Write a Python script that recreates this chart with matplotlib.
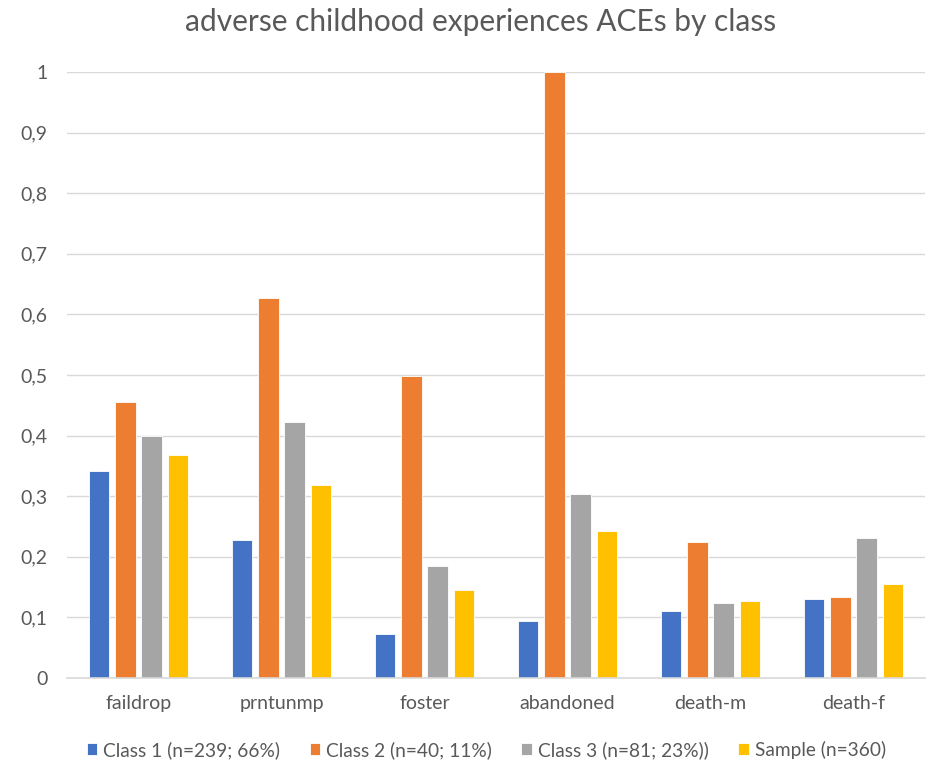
import matplotlib
matplotlib.use("Agg")
import matplotlib.pyplot as plt
import numpy as np
from matplotlib.ticker import FuncFormatter

categories = ["faildrop", "prntunmp", "foster", "abandoned", "death-m", "death-f"]
class1 = [0.342, 0.228, 0.073, 0.094, 0.111, 0.130]
class2 = [0.455, 0.627, 0.498, 1.000, 0.224, 0.133]
class3 = [0.400, 0.422, 0.185, 0.303, 0.123, 0.231]
sample = [0.368, 0.318, 0.146, 0.243, 0.127, 0.155]
series_names = ["Class 1 (n=239; 66%)", "Class 2 (n=40; 11%)",
                "Class 3 (n=81; 23%))", "Sample (n=360)"]
series_values = [class1, class2, class3, sample]
colors = ["#4472C4", "#ED7D31", "#A5A5A5", "#FFC000"]
yticks = [0, 0.1, 0.2, 0.3, 0.4, 0.5, 0.6, 0.7, 0.8, 0.9, 1.0]

plt.rcParams["font.family"] = ["Lato", "DejaVu Sans"]

fig = plt.figure(figsize=(9.35, 7.63), dpi=100)
ax = fig.add_axes([67 / 935, 1 - 678 / 763, (925 - 67) / 935, (678 - 72) / 763])

x = np.arange(len(categories))
step = 0.184
width = 0.145
for i, (name, vals, c) in enumerate(zip(series_names, series_values, colors)):
    ax.bar(x + (i - 1.5) * step, vals, width, color=c, label=name,
           edgecolor="white", linewidth=0.6, zorder=3)

ax.set_xlim(-0.5, len(categories) - 0.5)
ax.set_ylim(0, 1.0)
ax.set_yticks(yticks)
ax.yaxis.set_major_formatter(FuncFormatter(
    lambda v, p: ("%g" % round(v, 1)).replace(".", ",")))
ax.set_xticks(x)
ax.set_xticklabels(categories)
ax.grid(axis="y", color="#d9d9d9", linewidth=1.0, zorder=0)
for s in ["top", "right", "left"]:
    ax.spines[s].set_visible(False)
ax.spines["bottom"].set_color("#d9d9d9")
ax.spines["bottom"].set_linewidth(1.2)
ax.spines["bottom"].set_zorder(4)
ax.tick_params(axis="both", length=0, labelsize=14, colors="#595959")
ax.tick_params(axis="y", pad=14)
ax.tick_params(axis="x", pad=12)

fig.text(0.514, 1 - 22 / 763, "adverse childhood experiences ACEs by class",
         ha="center", va="center", fontsize=21.5, color="#595959")

fig.legend(loc="center", bbox_to_anchor=(0.52, 1 - 750 / 763), ncol=4,
           frameon=False, fontsize=13.8, labelcolor="#595959",
           handlelength=0.55, handleheight=0.55, handletextpad=0.3,
           columnspacing=1.55)

fig.savefig("out.png", dpi=100, facecolor="white")
